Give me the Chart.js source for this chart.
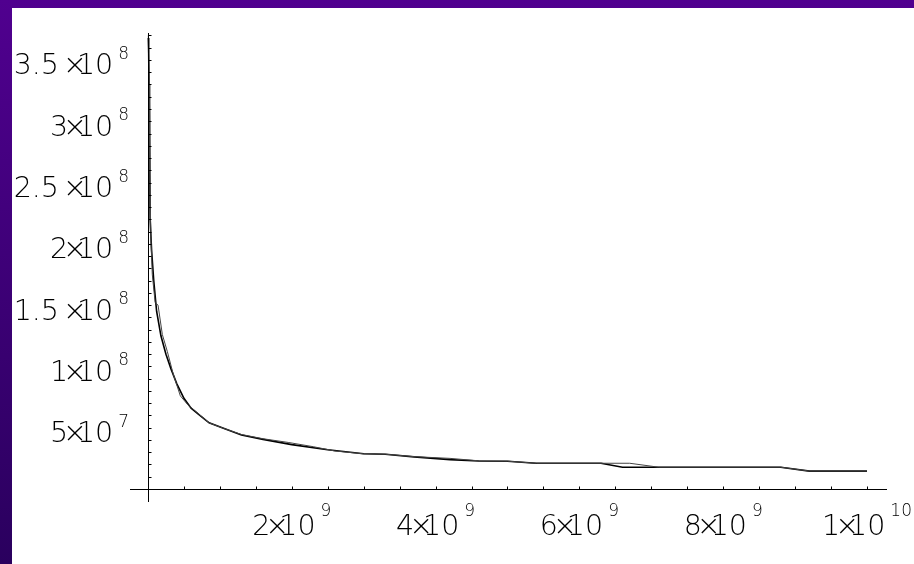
<!DOCTYPE html>
<html>
<head>
<meta charset="utf-8">
<script src="https://cdn.jsdelivr.net/npm/chart.js@4.4.1/dist/chart.umd.min.js"></script>
<style>
    html, body { margin: 0; padding: 0; }
    body {
        width: 914px; height: 564px; position: relative; overflow: hidden;
        background: linear-gradient(#50008f, #2a005e);
    }
    #paper { position: absolute; left: 12px; top: 8px; width: 902px; height: 556px; background: #fff; }
    #curveChart { position: absolute; left: 0; top: 0; }
</style>
</head>
<body>
<div id="paper"></div>
<canvas id="curveChart" width="914" height="564"></canvas>
<script>
// Curve data (x in raw units, y in raw units)
const thickX = [0.005e9, 0.01e9, 0.02e9, 0.03e9, 0.05e9, 0.08e9, 0.12e9, 0.18e9, 0.25e9, 0.32e9,
                0.4e9, 0.5e9, 0.6e9, 0.7e9, 0.85e9, 1.05e9, 1.3e9, 1.6e9, 2.0e9, 2.5e9,
                3.0e9, 3.3e9, 3.7e9, 4.2e9, 4.6e9, 5.0e9, 5.4e9, 6.3e9, 6.6e9, 8.8e9,
                9.2e9, 10.0e9];
const thickY = [36.8e7, 35.5e7, 30e7, 22e7, 19.5e7, 17e7, 14.5e7, 12.5e7, 11e7, 9.8e7,
                8.6e7, 7.4e7, 6.6e7, 6.1e7, 5.4e7, 4.95e7, 4.4e7, 4.05e7, 3.62e7, 3.2e7,
                2.88e7, 2.84e7, 2.62e7, 2.4e7, 2.28e7, 2.27e7, 2.1e7, 2.1e7, 1.78e7, 1.78e7,
                1.46e7, 1.46e7];

const thinX = [0.005e9, 0.015e9, 0.025e9, 0.04e9, 0.06e9, 0.1e9, 0.14e9, 0.2e9, 0.27e9, 0.35e9,
               0.45e9, 0.55e9, 0.65e9, 0.75e9, 0.85e9, 1.05e9, 1.3e9, 1.6e9, 1.95e9, 2.3e9,
               2.6e9, 3.0e9, 3.3e9, 3.7e9, 4.2e9, 4.6e9, 5.0e9, 5.4e9, 6.7e9, 7.1e9,
               8.8e9, 9.2e9, 10.0e9];
const thinY = [37e7, 33e7, 26e7, 20.5e7, 17.5e7, 15.2e7, 15.0e7, 12.6e7, 11.2e7, 9.4e7,
               7.6e7, 6.9e7, 6.4e7, 5.9e7, 5.4e7, 4.95e7, 4.45e7, 4.1e7, 3.8e7, 3.45e7,
               3.1e7, 2.87e7, 2.84e7, 2.64e7, 2.5e7, 2.3e7, 2.27e7, 2.1e7, 2.1e7, 1.78e7,
               1.78e7, 1.46e7, 1.46e7];

// Tick labels, Mathematica style  m x 10^e
const xTickValues = [2e9, 4e9, 6e9, 8e9, 1e10];
const xTickMantissa = ['2', '4', '6', '8', '1'];
const xTickExponent = ['9', '9', '9', '9', '10'];
const yTickValues = [5e7, 1e8, 1.5e8, 2e8, 2.5e8, 3e8, 3.5e8];
const yTickMantissa = ['5', '1', '1.5 ', '2', '2.5 ', '3', '3.5 '];
const yTickExponent = ['7', '8', '8', '8', '8', '8', '8'];
const xMinorStep = 0.5e9;
const yMinorStep = 1e7;

const MAIN_FONT = '200 28.5px "DejaVu Sans"';
const SUP_FONT = '200 17px "DejaVu Sans"';

function toPoints(xs, ys) {
    return xs.map((x, i) => ({ x: x, y: ys[i] }));
}

// lay out "m×10" + superscript, returns offsets of the pieces
function layoutSci(ctx, mant, exp) {
    ctx.font = MAIN_FONT;
    const wm = ctx.measureText(mant).width;
    const wx = ctx.measureText('\u00d7').width;
    const wt = ctx.measureText('10').width;
    ctx.font = SUP_FONT;
    const we = ctx.measureText(exp).width;
    const xTimes = wm - 5;
    const xTen = xTimes + wx - 10;
    const xExp = xTen + wt + 5;
    return { xTimes: xTimes, xTen: xTen, xExp: xExp, width: xExp + we };
}

function drawSci(ctx, mant, exp, left, baseMain, baseSup) {
    const l = layoutSci(ctx, mant, exp);
    ctx.font = MAIN_FONT;
    ctx.fillText(mant, left, baseMain);
    ctx.fillText('\u00d7', left + l.xTimes, baseMain);
    ctx.fillText('10', left + l.xTen, baseMain);
    ctx.font = SUP_FONT;
    ctx.fillText(exp, left + l.xExp, baseSup);
}

// axes crossing at the origin, inward ticks
const crossAxes = {
    id: 'crossAxes',
    afterDatasetsDraw(chart) {
        const ctx = chart.ctx;
        const xs = chart.scales.x;
        const ys = chart.scales.y;
        const area = chart.chartArea;
        const x0 = Math.round(xs.getPixelForValue(0)) + 0.5;
        const y0 = Math.round(ys.getPixelForValue(0)) + 0.5;

        ctx.save();
        ctx.strokeStyle = '#000';
        ctx.lineWidth = 1;
        ctx.beginPath();
        ctx.moveTo(area.left, y0);
        ctx.lineTo(area.right, y0);
        ctx.moveTo(x0, area.top);
        ctx.lineTo(x0, area.bottom);

        for (let v = xMinorStep; v <= xs.max; v += xMinorStep) {
            const px = Math.round(xs.getPixelForValue(v)) + 0.5;
            ctx.moveTo(px, y0);
            ctx.lineTo(px, y0 - 3);
        }
        for (let v = yMinorStep; v <= ys.max; v += yMinorStep) {
            const py = Math.round(ys.getPixelForValue(v)) + 0.5;
            ctx.moveTo(x0, py);
            ctx.lineTo(x0 + 3, py);
        }
        ctx.stroke();

        ctx.fillStyle = '#000';
        ctx.textAlign = 'left';
        ctx.textBaseline = 'alphabetic';
        xTickValues.forEach((v, i) => {
            const px = xs.getPixelForValue(v);
            const l = layoutSci(ctx, xTickMantissa[i], xTickExponent[i]);
            drawSci(ctx, xTickMantissa[i], xTickExponent[i], px - l.width / 2, y0 + 45, y0 + 26);
        });
        yTickValues.forEach((v, i) => {
            const py = ys.getPixelForValue(v);
            const l = layoutSci(ctx, yTickMantissa[i], yTickExponent[i]);
            drawSci(ctx, yTickMantissa[i], yTickExponent[i], 129 - l.width, py + 14.5, py - 1);
        });
        ctx.restore();
    }
};

const ctx = document.getElementById('curveChart');
new Chart(ctx, {
    type: 'line',
    data: {
        datasets: [{
            label: 'thin',
            data: toPoints(thinX, thinY),
            borderColor: '#444',
            borderWidth: 1,
            pointRadius: 0,
            tension: 0
        }, {
            label: 'thick',
            data: toPoints(thickX, thickY),
            borderColor: '#000',
            borderWidth: 1.6,
            pointRadius: 0,
            tension: 0
        }]
    },
    options: {
        responsive: false,
        animation: false,
        layout: { padding: { left: 130, top: 33, right: 27, bottom: 62 } },
        plugins: {
            legend: { display: false },
            tooltip: { enabled: false }
        },
        scales: {
            x: { type: 'linear', min: -0.25e9, max: 1.0278e10, display: false },
            y: { type: 'linear', min: -1.06e7, max: 3.72e8, display: false }
        }
    },
    plugins: [crossAxes]
});
</script>
</body>
</html>
